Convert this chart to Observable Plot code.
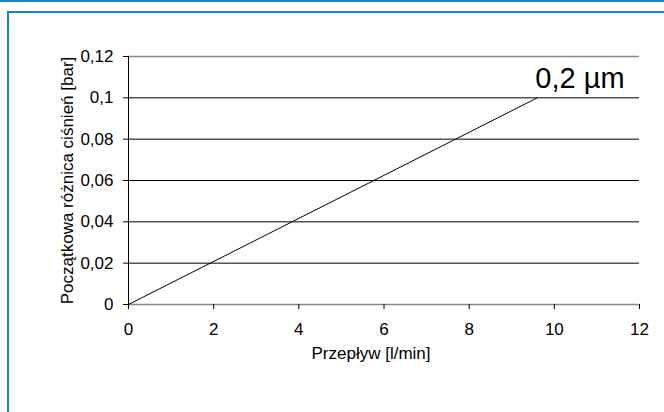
<!DOCTYPE html>
<html><head><meta charset="utf-8">
<script src="https://cdn.jsdelivr.net/npm/d3@7"></script>
<script src="https://cdn.jsdelivr.net/npm/@observablehq/plot@0.6"></script>
<style>
html,body{margin:0;padding:0;background:#fff;}
#wrap{position:relative;width:664px;height:412px;overflow:hidden;background:#fff;}
.topband{position:absolute;left:0;top:0;width:664px;height:2px;background:#1a82c8;}
.frame{position:absolute;left:7px;top:11px;width:720px;height:460px;border:2px solid #1a82c8;box-sizing:border-box;}
#chart{position:absolute;left:0;top:0;}
</style></head><body>
<div id="wrap"><div class="topband"></div><div class="frame"></div><div id="chart"></div></div>
<script>
const flow = [0, 9.6];
const pressure = [0, 0.1];
const seriesLabel = "0,2 µm";
const xTicks = [0, 2, 4, 6, 8, 10, 12];
const yTicks = [0, 0.02, 0.04, 0.06, 0.08, 0.1, 0.12];
const xTitle = "Przepływ [l/min]";
const yTitle = "Początkowa różnica ciśnień [bar]";

const data = flow.map((f, i) => ({flow: f, pressure: pressure[i]}));
const fmt = d => String(d).replace(".", ",");
const FS = 17;

const chart = Plot.plot({
  width: 664,
  height: 412,
  marginLeft: 128,
  marginRight: 25,
  marginTop: 56,
  marginBottom: 108,
  style: {fontFamily: "'Liberation Sans', Arial, sans-serif", fontSize: "17px", color: "#000", background: "transparent"},
  x: {domain: [0, 12]},
  y: {domain: [0, 0.12]},
  marks: [
    Plot.ruleY(yTicks.filter(d => d > 0 && d < 0.12), {stroke: "#000", strokeWidth: 1}),
    Plot.ruleY([0.12], {stroke: "#888", strokeWidth: 1.5}),
    Plot.ruleY([0], {stroke: "#888", strokeWidth: 1.5}),
    Plot.ruleX([0], {stroke: "#000", strokeWidth: 1}),
    Plot.axisY({ticks: yTicks, tickFormat: fmt, tickSize: 5, tickPadding: 10, stroke: "#000",
      fontSize: FS, label: null}),
    Plot.axisX({ticks: xTicks, tickFormat: fmt, tickSize: 5, tickPadding: 13, stroke: "#000",
      fontSize: FS, label: null}),
    Plot.text([xTitle], {frameAnchor: "bottom", dx: -13, dy: 54, fontSize: FS, fill: "#000"}),
    Plot.text([yTitle], {frameAnchor: "left", textAnchor: "middle", rotate: -90, dx: -61, fontSize: FS, fill: "#000"}),
    Plot.line(data, {x: "flow", y: "pressure", stroke: "#000", strokeWidth: 1}),
    Plot.text([data[data.length - 1]], {x: "flow", y: "pressure", text: () => seriesLabel,
      textAnchor: "start", dx: -2, dy: -19, fontSize: 29, fill: "#000"})
  ]
});
document.getElementById("chart").appendChild(chart);
</script>
</body></html>
